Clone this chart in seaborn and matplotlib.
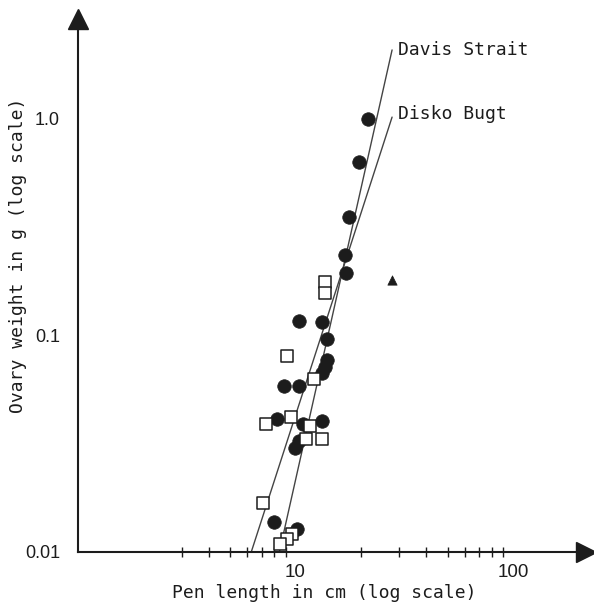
import matplotlib
matplotlib.use("Agg")
import matplotlib.pyplot as plt
import matplotlib.ticker as mticker
import seaborn as sns

# --- Daten ---
# gefuellte Kreise
circle_len = [21.5, 19.5, 17.7, 16.8, 17.0, 10.4, 13.3, 14.0, 13.9, 13.6,
              13.3, 8.9, 10.4, 8.2, 10.8, 13.3, 10.4, 10.0, 8.0, 10.2]
circle_wt = [0.99, 0.63, 0.35, 0.234, 0.193, 0.116, 0.115, 0.096, 0.077, 0.071,
             0.067, 0.058, 0.058, 0.041, 0.039, 0.040, 0.0325, 0.030, 0.0137, 0.0128]

# offene Quadrate
square_len = [13.6, 13.6, 9.1, 12.2, 7.35, 9.5, 11.7, 11.2, 13.3, 7.1, 9.6, 9.1, 8.5]
square_wt = [0.175, 0.156, 0.080, 0.063, 0.039, 0.042, 0.038, 0.033, 0.033,
             0.0168, 0.0121, 0.0115, 0.0109]

# Dreieck
tri_len = [27.7]
tri_wt = [0.18]

# Regressionsgeraden
davis_len = [8.43, 27.8]
davis_wt = [0.01, 2.06]
disko_len = [6.26, 27.8]
disko_wt = [0.01, 1.01]

x_ticks = [10, 100]
x_labels = ["10", "100"]
x_minor = [3, 4, 5, 6, 7, 8, 9, 20, 30, 40, 50, 60, 70, 80, 90]
y_ticks = [0.01, 0.1, 1.0]
y_labels = ["0.01", "0.1", "1.0"]

sns.set_style("white")
mono = "DejaVu Sans Mono"
sans = "Liberation Sans"
ink = "#1c1c1c"

fig = plt.figure(figsize=(5.94, 6.08), dpi=100)
ax = fig.add_axes([78 / 594, 56 / 608, 500 / 594, 524 / 608])
ax.set_xscale("log")
ax.set_yscale("log")
ax.set_xlim(1, 199)
ax.set_ylim(0.01, 2.6)

# Linien
sns.lineplot(x=davis_len, y=davis_wt, ax=ax, color="#444444", lw=1.0,
             estimator=None, sort=False)
sns.lineplot(x=disko_len, y=disko_wt, ax=ax, color="#444444", lw=1.0,
             estimator=None, sort=False)

# Punkte
sns.scatterplot(x=circle_len, y=circle_wt, ax=ax, marker="o", s=95,
                color=ink, edgecolor=ink, linewidth=0.5, zorder=3)
sns.scatterplot(x=square_len, y=square_wt, ax=ax, marker="s", s=80,
                facecolor="white", edgecolor=ink, linewidth=1.1, zorder=4)
sns.scatterplot(x=tri_len, y=tri_wt, ax=ax, marker="^", s=45,
                color=ink, edgecolor=ink, linewidth=0.5, zorder=3)

# Beschriftung der Geraden
ax.text(davis_len[1] * 1.07, davis_wt[1] * 1.0, "Davis Strait", family=mono,
        fontsize=13, ha="left", va="center", color=ink)
ax.text(disko_len[1] * 1.07, disko_wt[1] * 1.03, "Disko Bugt", family=mono,
        fontsize=13, ha="left", va="center", color=ink)

# Achsen
for side in ["top", "right"]:
    ax.spines[side].set_visible(False)
for side in ["left", "bottom"]:
    ax.spines[side].set_linewidth(1.5)
    ax.spines[side].set_color(ink)

ax.xaxis.set_major_locator(mticker.FixedLocator(x_ticks))
ax.xaxis.set_major_formatter(mticker.FixedFormatter(x_labels))
ax.xaxis.set_minor_locator(mticker.FixedLocator(x_minor))
ax.xaxis.set_minor_formatter(mticker.NullFormatter())
ax.yaxis.set_major_locator(mticker.FixedLocator(y_ticks))
ax.yaxis.set_major_formatter(mticker.FixedFormatter(y_labels))
ax.yaxis.set_minor_locator(mticker.NullLocator())

ax.tick_params(axis="x", which="major", direction="inout", length=9, width=1.2,
               color=ink, pad=4, labelsize=13.5, labelcolor=ink)
ax.tick_params(axis="x", which="minor", direction="inout", length=7, width=1.0,
               color=ink, bottom=True)
ax.tick_params(axis="y", which="major", direction="out", length=5, width=1.2,
               color=ink, pad=8, labelsize=13, labelcolor=ink)
for lab in ax.get_xticklabels() + ax.get_yticklabels():
    lab.set_family(sans)

ax.set_xlabel("Pen length in cm (log scale)", family=mono, fontsize=13,
              color=ink, va="center")
ax.set_ylabel("Ovary weight in g (log scale)", family=mono, fontsize=13,
              color=ink, va="center")
ax.xaxis.set_label_coords(0.492, -0.078)
ax.yaxis.set_label_coords(-0.12, 0.567)

# Pfeilspitzen an den Achsenenden
ax.plot(1.016, 0, marker=">", markersize=15, color=ink, transform=ax.transAxes,
        clip_on=False)
ax.plot(0, 1.018, marker="^", markersize=15, color=ink, transform=ax.transAxes,
        clip_on=False)

fig.savefig("out.png", dpi=100)
